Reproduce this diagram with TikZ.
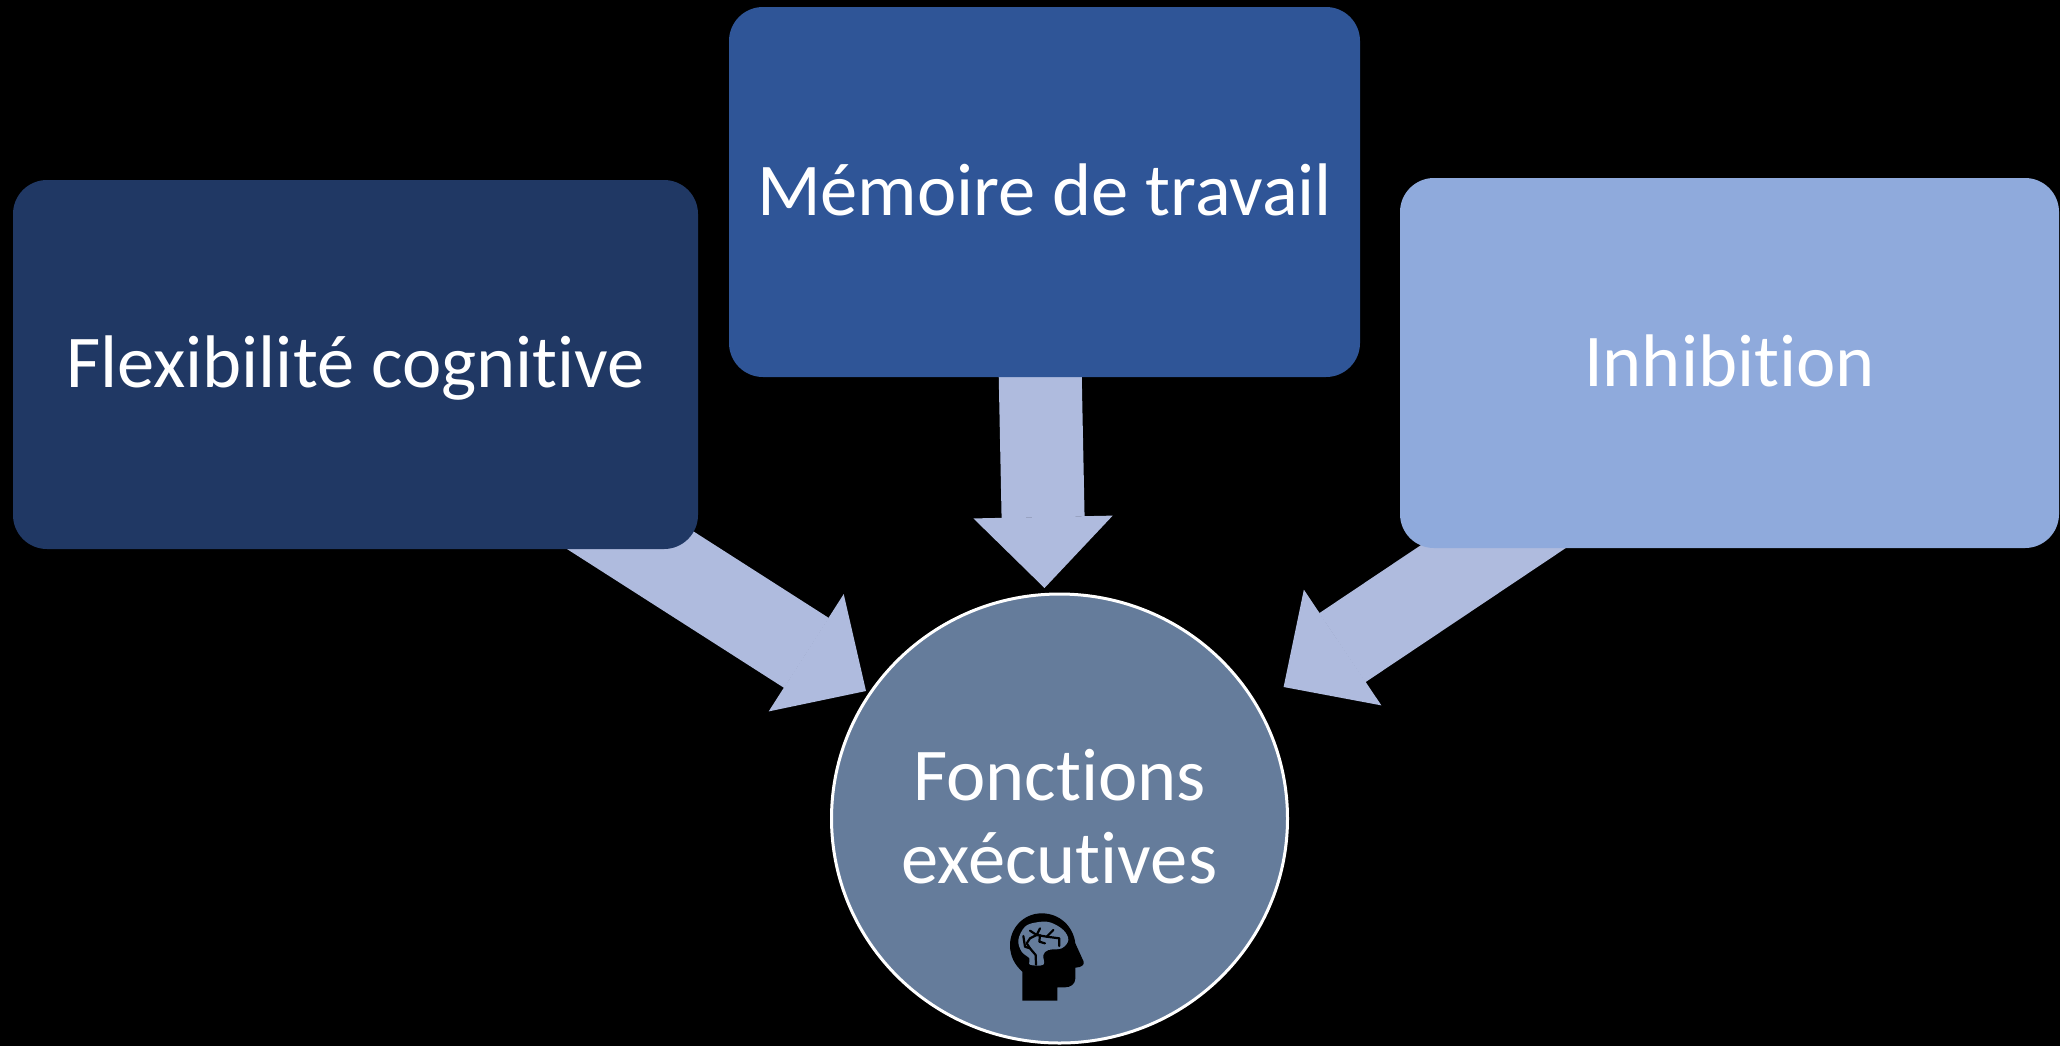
\documentclass[tikz,border=0pt]{standalone}
\usepackage{fontspec}
\setmainfont[RawFeature=-liga]{Carlito}
\usetikzlibrary{arrows.meta,shapes.geometric}
\definecolor{flexcol}{HTML}{203864}
\definecolor{memcol}{HTML}{2F5597}
\definecolor{inhibcol}{HTML}{8FAADC}
\definecolor{arrowcol}{HTML}{AFBBDE}
\definecolor{fonctcol}{HTML}{657C9B}
\pgfdeclarelayer{behind}
\pgfsetlayers{behind,main}
\tikzset{
  boxnode/.style={rectangle, rounded corners=34pt, inner sep=0pt, text=white, align=center,
    text height=60pt, text depth=14pt, font=\fontsize{74.5}{83}\selectfont},
  bigarrow/.style={draw=arrowcol, line width=83pt, line cap=butt,
    -{Triangle[length=71pt,width=139pt,line width=1.5pt,fill=arrowcol]}},
  branch/.style={draw=black, line width=2.2pt, line cap=round, line join=round},
}
\begin{document}
\begin{tikzpicture}[x=1pt,y=-1pt]
\useasboundingbox (0,0) rectangle (2060,1045);
\coordinate (tipflex) at (866,691);
\coordinate (tipmem) at (1044.5,588);
\coordinate (tipinhib) at (1283.6,687);
\node[boxnode, fill=flexcol, minimum width=685pt, minimum height=369pt] (flex) at (355.5,364.5) {Flexibilité cognitive};
\node[boxnode, fill=memcol, minimum width=631pt, minimum height=370pt] (mem) at (1044.5,192) {Mémoire de travail};
\node[boxnode, fill=inhibcol, minimum width=659pt, minimum height=370pt] (inhib) at (1729.5,363) {Inhibition};
\node[boxnode, ellipse, fill=fonctcol, draw=white, line width=3pt, text height=143pt, minimum width=456pt, minimum height=449pt] (fonctions) at (1059.5,818.5) {Fonctions\\exécutives};
\begin{pgfonlayer}{behind}
\fill[black] (-5,-5) rectangle (2065,1050);
\draw[bigarrow] (flex.center) -- (tipflex);
\draw[bigarrow] ([xshift=-8pt]mem.center) -- (tipmem);
\draw[bigarrow] ([xshift=38pt]inhib.center) -- (tipinhib);
\end{pgfonlayer}
\begin{scope}[shift={(980,880)},x=.3333pt,y=-.3333pt]
\fill[black] (127,362) -- (127,275) .. controls (105,255) and (90,230) .. (90,195)
  .. controls (90,145) and (130,100) .. (185,100) .. controls (240,100) and (280,140) .. (286,190)
  -- (311,245) .. controls (313,255) and (305,262) .. (286,263) -- (286,295)
  .. controls (286,312) and (272,322) .. (255,322) -- (232,322) -- (232,362) -- cycle;
\fill[fonctcol] plot[smooth cycle, tension=.6] coordinates {(115,180) (135,140) (170,127) (210,127) (250,150) (265,180) (245,205) (205,210) (190,225) (190,254) (150,254) (148,235) (125,215)};
\draw[branch] (168,254) -- (167,225) -- (150,205) -- (135,200) -- (130,168);
\draw[branch] (150,205) -- (140,190) -- (150,175) -- (170,165) -- (180,145);
\draw[branch] (170,165) -- (150,152);
\draw[branch] (170,165) -- (200,170) -- (220,150);
\draw[branch] (200,170) -- (238,175) -- (238,198);
\draw[branch] (180,165) -- (178,185) -- (195,190);
\end{scope}
\end{tikzpicture}
\end{document}
